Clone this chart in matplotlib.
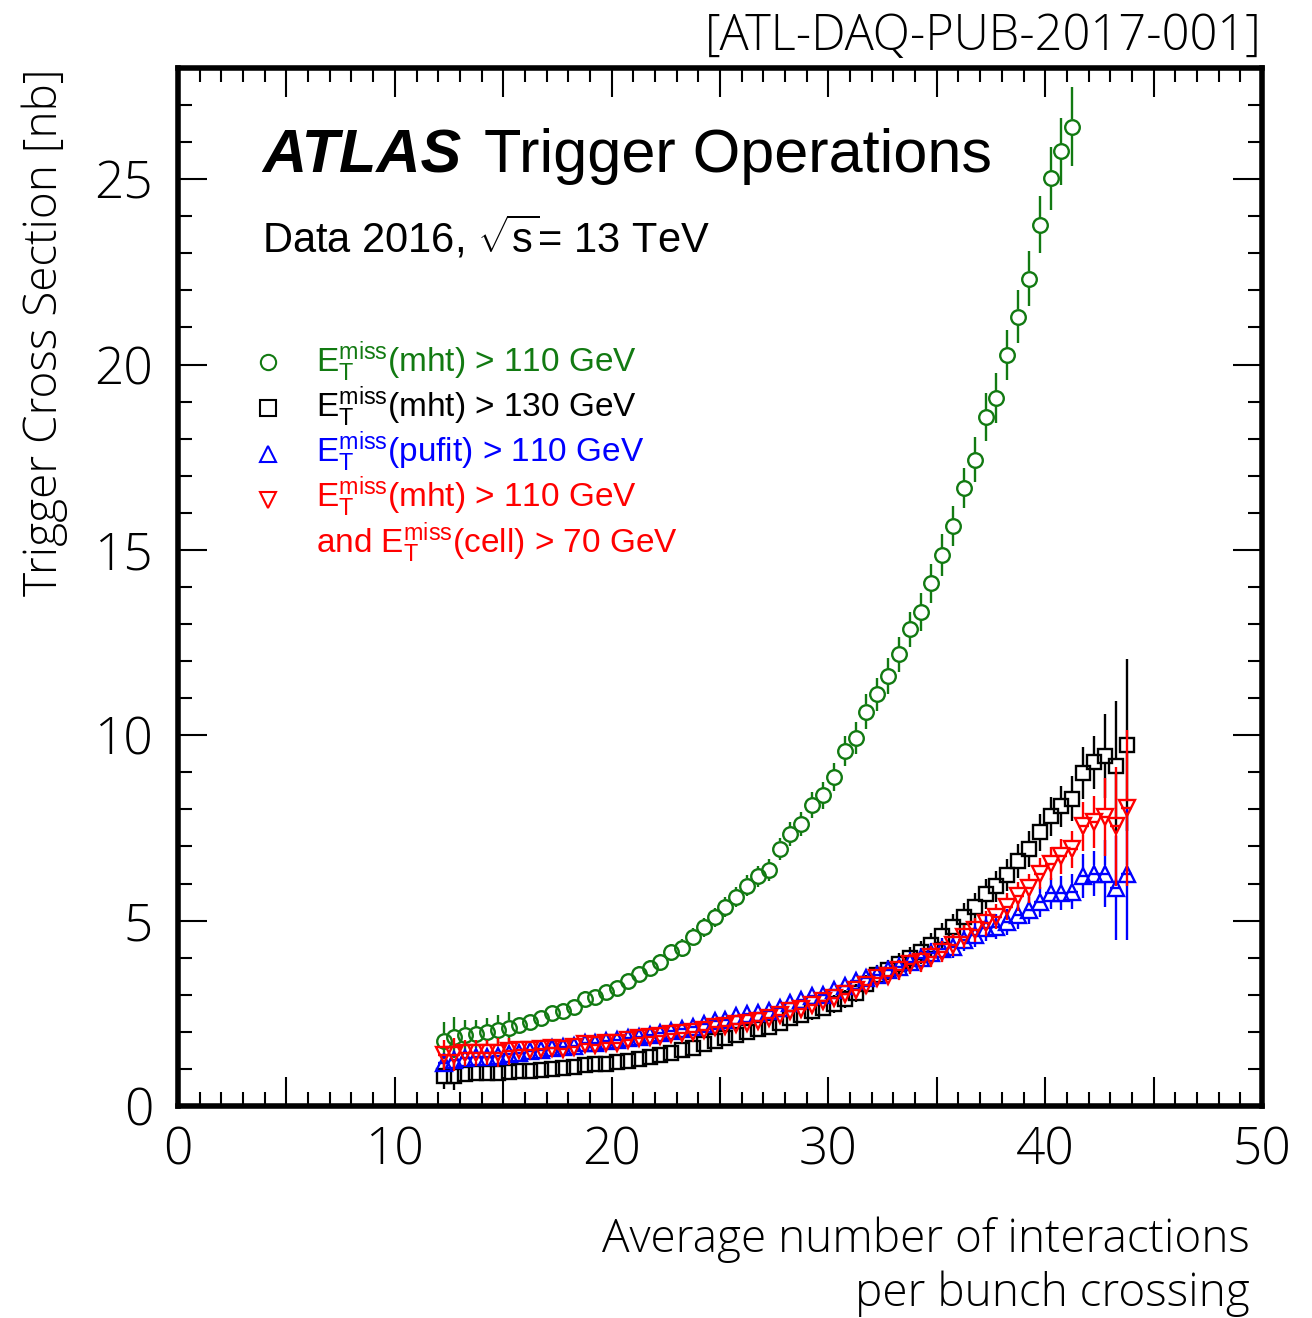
import numpy as np
import matplotlib
matplotlib.use("Agg")
import matplotlib.pyplot as plt
from matplotlib.ticker import MultipleLocator, FuncFormatter

# bin centres in <mu>
MU = [12.25, 12.75, 13.25, 13.75, 14.25, 14.75, 15.25, 15.75, 16.25, 16.75,
      17.25, 17.75, 18.25, 18.75, 19.25, 19.75, 20.25, 20.75, 21.25, 21.75,
      22.25, 22.75, 23.25, 23.75, 24.25, 24.75, 25.25, 25.75, 26.25, 26.75,
      27.25, 27.75, 28.25, 28.75, 29.25, 29.75, 30.25, 30.75, 31.25, 31.75,
      32.25, 32.75, 33.25, 33.75, 34.25, 34.75, 35.25, 35.75, 36.25, 36.75,
      37.25, 37.75, 38.25, 38.75, 39.25, 39.75, 40.25, 40.75, 41.25, 41.75,
      42.25, 42.75, 43.25, 43.75]

# xe_mht > 110 GeV (stops at 41.25)
XS_MHT110 = [1.76, 1.85, 1.92, 1.94, 2.00, 2.05, 2.11, 2.19, 2.26, 2.38,
             2.50, 2.57, 2.68, 2.89, 2.95, 3.07, 3.19, 3.37, 3.56, 3.72,
             3.87, 4.14, 4.27, 4.57, 4.82, 5.09, 5.37, 5.64, 5.94, 6.19,
             6.36, 6.94, 7.34, 7.61, 8.12, 8.38, 8.87, 9.58, 9.93, 10.64,
             11.10, 11.60, 12.18, 12.86, 13.32, 14.10, 14.86, 15.65, 16.67, 17.43,
             18.59, 19.10, 20.25, 21.29, 22.32, 23.77, 25.02, 25.75, 26.42]
ERR_MHT110 = [0.50, 0.56, 0.40, 0.38, 0.36, 0.40, 0.43, 0.22, 0.20, 0.20,
              0.20, 0.20, 0.20, 0.20, 0.20, 0.20, 0.20, 0.20, 0.22, 0.22,
              0.22, 0.22, 0.24, 0.24, 0.25, 0.25, 0.26, 0.26, 0.28, 0.28,
              0.30, 0.30, 0.32, 0.32, 0.34, 0.36, 0.38, 0.40, 0.44, 0.47,
              0.45, 0.48, 0.48, 0.47, 0.52, 0.53, 0.56, 0.54, 0.54, 0.61,
              0.65, 0.68, 0.68, 0.72, 0.74, 0.77, 0.86, 0.91, 1.07]

# xe_mht > 130 GeV
XS_MHT130 = [0.82, 0.82, 0.85, 0.88, 0.90, 0.90, 0.91, 0.93, 0.95, 0.97,
             1.00, 1.02, 1.06, 1.10, 1.12, 1.14, 1.18, 1.22, 1.27, 1.32,
             1.37, 1.43, 1.50, 1.57, 1.66, 1.75, 1.83, 1.92, 2.00, 2.08,
             2.14, 2.23, 2.37, 2.46, 2.55, 2.64, 2.75, 2.88, 3.05, 3.28,
             3.53, 3.67, 3.83, 3.98, 4.14, 4.34, 4.59, 4.84, 5.11, 5.36,
             5.71, 5.92, 6.23, 6.61, 6.93, 7.38, 7.81, 8.08, 8.29, 8.98,
             9.27, 9.44, 9.16, 9.74]
ERR_MHT130 = [0.35, 0.38, 0.16, 0.16, 0.16, 0.16, 0.16, 0.16, 0.15, 0.15,
              0.15, 0.15, 0.15, 0.15, 0.15, 0.15, 0.15, 0.15, 0.15, 0.16,
              0.16, 0.16, 0.17, 0.17, 0.17, 0.18, 0.18, 0.18, 0.19, 0.19,
              0.20, 0.20, 0.21, 0.21, 0.22, 0.22, 0.23, 0.24, 0.25, 0.26,
              0.27, 0.28, 0.29, 0.30, 0.31, 0.32, 0.34, 0.35, 0.37, 0.38,
              0.40, 0.42, 0.44, 0.46, 0.48, 0.50, 0.53, 0.55, 0.60, 0.70,
              0.72, 1.12, 1.76, 2.32]

# xe_pufit > 110 GeV
XS_PUFIT110 = [1.17, 1.24, 1.29, 1.33, 1.33, 1.35, 1.40, 1.42, 1.47, 1.51,
               1.56, 1.60, 1.62, 1.69, 1.71, 1.74, 1.78, 1.83, 1.87, 1.92,
               1.96, 2.02, 2.08, 2.14, 2.21, 2.28, 2.33, 2.42, 2.47, 2.51,
               2.56, 2.65, 2.78, 2.87, 2.96, 3.00, 3.14, 3.23, 3.36, 3.45,
               3.53, 3.67, 3.76, 3.89, 3.98, 4.12, 4.23, 4.30, 4.48, 4.61,
               4.79, 4.84, 4.97, 5.15, 5.29, 5.51, 5.74, 5.74, 5.78, 6.20,
               6.27, 6.27, 5.87, 6.27]
ERR_PUFIT110 = [0.25, 0.25, 0.20, 0.20, 0.18, 0.18, 0.18, 0.15, 0.14, 0.14,
                0.14, 0.14, 0.14, 0.14, 0.14, 0.14, 0.14, 0.14, 0.14, 0.14,
                0.15, 0.15, 0.15, 0.15, 0.16, 0.16, 0.16, 0.16, 0.17, 0.17,
                0.17, 0.18, 0.18, 0.19, 0.19, 0.20, 0.20, 0.21, 0.22, 0.23,
                0.24, 0.25, 0.26, 0.27, 0.27, 0.28, 0.29, 0.30, 0.31, 0.32,
                0.33, 0.34, 0.35, 0.37, 0.39, 0.40, 0.42, 0.45, 0.48, 0.60,
                0.62, 0.90, 1.40, 1.80]

# xe_mht > 110 GeV && xe_cell > 70 GeV
XS_MHT110_CELL70 = [1.38, 1.38, 1.42, 1.42, 1.44, 1.44, 1.47, 1.50, 1.51, 1.54,
                    1.56, 1.53, 1.60, 1.68, 1.65, 1.69, 1.71, 1.78, 1.83, 1.87,
                    1.89, 1.94, 1.97, 2.00, 2.06, 2.12, 2.15, 2.20, 2.25, 2.30,
                    2.36, 2.45, 2.55, 2.62, 2.72, 2.82, 2.92, 3.02, 3.12, 3.25,
                    3.44, 3.50, 3.67, 3.83, 3.89, 4.03, 4.16, 4.34, 4.57, 4.75,
                    4.93, 5.11, 5.38, 5.65, 5.87, 6.27, 6.54, 6.74, 6.92, 7.54,
                    7.67, 7.80, 7.54, 8.04]
ERR_MHT110_CELL70 = [0.40, 0.45, 0.35, 0.35, 0.33, 0.38, 0.36, 0.15, 0.14, 0.14,
                     0.14, 0.14, 0.14, 0.14, 0.14, 0.14, 0.14, 0.14, 0.14, 0.14,
                     0.15, 0.15, 0.15, 0.15, 0.16, 0.16, 0.16, 0.16, 0.17, 0.17,
                     0.17, 0.18, 0.18, 0.19, 0.19, 0.20, 0.20, 0.21, 0.22, 0.23,
                     0.24, 0.25, 0.26, 0.27, 0.27, 0.28, 0.29, 0.30, 0.31, 0.32,
                     0.34, 0.35, 0.37, 0.39, 0.40, 0.42, 0.45, 0.47, 0.50, 0.65,
                     0.70, 1.05, 1.60, 2.10]

ET = r"$\mathrm{E}_{\mathrm{T}}^{\mathrm{miss}}$"
LEG_LABELS = [ET + "(mht) > 110 GeV",
              ET + "(mht) > 130 GeV",
              ET + "(pufit) > 110 GeV",
              ET + "(mht) > 110 GeV"]
LEG_EXTRA = "and " + ET + "(cell) > 70 GeV"

GREEN = "#127a12"
HALF_BIN = 0.25
XMAX, YMAX = 50, 28

plt.rcParams["font.family"] = ["Liberation Sans", "DejaVu Sans"]
plt.rcParams["mathtext.fontset"] = "custom"
plt.rcParams["mathtext.rm"] = "Liberation Sans"
plt.rcParams["mathtext.it"] = "Liberation Sans:italic"
plt.rcParams["mathtext.bf"] = "Liberation Sans:bold"
LIGHT = dict(family=["Open Sans", "Liberation Sans"], weight="light")

fig = plt.figure(figsize=(13.12, 13.18), dpi=100)
ax = fig.add_axes([0.1357, 0.1609, 0.8262, 0.7875])
ax.set_xlim(0, XMAX)
ax.set_ylim(0, YMAX)

# y-size of one data unit in pixels, used to leave a gap for hollow markers
px_per_unit = ax.get_position().height * fig.get_figheight() * fig.dpi / YMAX


def draw_series(x, y, err, color, marker, ms, xbar=False, z=3):
    x, y, err = np.asarray(x), np.asarray(y), np.asarray(err)
    gap = 0.5 * ms * fig.dpi / 72 / px_per_unit
    ok = err > gap
    ax.vlines(x[ok], y[ok] + gap, y[ok] + err[ok], color=color, lw=1.7, zorder=z)
    ax.vlines(x[ok], y[ok] - err[ok], y[ok] - gap, color=color, lw=1.7, zorder=z)
    if xbar:
        ax.hlines(y, x - HALF_BIN, x + HALF_BIN, color=color, lw=1.7, zorder=z)
    ax.plot(x, y, ls="none", marker=marker, ms=ms, mfc="none", mec=color,
            mew=1.7, zorder=z)


n_green = len(XS_MHT110)
draw_series(MU[:n_green], XS_MHT110, ERR_MHT110, GREEN, "o", 10.5, z=3)
draw_series(MU, XS_MHT130, ERR_MHT130, "black", "s", 9.5, z=4)
draw_series(MU, XS_PUFIT110, ERR_PUFIT110, "blue", "^", 12, xbar=True, z=5)
draw_series(MU, XS_MHT110_CELL70, ERR_MHT110_CELL70, "red", "v", 12, xbar=True, z=6)

# axes frame and ticks
for sp in ax.spines.values():
    sp.set_linewidth(4)
ax.xaxis.set_major_locator(MultipleLocator(5))
ax.xaxis.set_minor_locator(MultipleLocator(1))
ax.xaxis.set_major_formatter(FuncFormatter(lambda v, _: f"{v:.0f}" if round(v) % 10 == 0 else ""))
ax.yaxis.set_major_locator(MultipleLocator(5))
ax.yaxis.set_minor_locator(MultipleLocator(1))
ax.tick_params(which="both", direction="in", top=True, right=True, width=1.5)
ax.tick_params(which="major", length=21)
ax.tick_params(which="minor", length=10)
ax.tick_params(axis="x", pad=14, labelsize=37)
ax.tick_params(axis="y", pad=18, labelsize=37)
for lab in ax.get_xticklabels() + ax.get_yticklabels():
    lab.set_fontfamily(LIGHT["family"])
    lab.set_fontweight(LIGHT["weight"])

# labels
fig.text(45 / 1312, 1 - 68 / 1318, "Trigger Cross Section [nb]", rotation=90,
         ha="center", va="top", fontsize=33, **LIGHT)
fig.text(1250 / 1312, 1 - 1252 / 1318, "Average number of interactions",
         ha="right", va="baseline", fontsize=33, **LIGHT)
fig.text(1250 / 1312, 1 - 1306 / 1318, "per bunch crossing",
         ha="right", va="baseline", fontsize=33, **LIGHT)
fig.text(1262 / 1312, 1 - 50 / 1318, "[ATL-DAQ-PUB-2017-001]",
         ha="right", va="baseline", fontsize=35, **LIGHT)

ax.text(0.0775, 0.8998, "ATLAS", transform=ax.transAxes, fontsize=44,
        fontweight="bold", fontstyle="italic", va="baseline")
ax.text(0.2823, 0.8998, "Trigger Operations", transform=ax.transAxes,
        fontsize=44, va="baseline")
ax.text(0.0775, 0.8218, r"Data 2016, $\sqrt{\mathrm{s}}$= 13 TeV", transform=ax.transAxes,
        fontsize=30, va="baseline")

# legend, drawn by hand so the last entry can span two lines
leg_colors = [GREEN, "black", "blue", "red"]
leg_markers = ["o", "s", "^", "v"]
leg_marker_y = [0.7168, 0.6724, 0.6281, 0.5838]
leg_text_y = [0.7071, 0.6638, 0.6204, 0.5771]
for lab, c, m, my, ty in zip(LEG_LABELS, leg_colors, leg_markers, leg_marker_y, leg_text_y):
    ax.plot([0.083], [my], transform=ax.transAxes, marker=m, ms=11, mfc="none",
            mec=c, mew=1.5, ls="none", clip_on=False)
    ax.text(0.1273, ty, lab, transform=ax.transAxes, color=c, fontsize=24,
            va="baseline")
ax.text(0.1273, 0.5328, LEG_EXTRA, transform=ax.transAxes, color="red",
        fontsize=24, va="baseline")

fig.savefig("out.png", dpi=100)
